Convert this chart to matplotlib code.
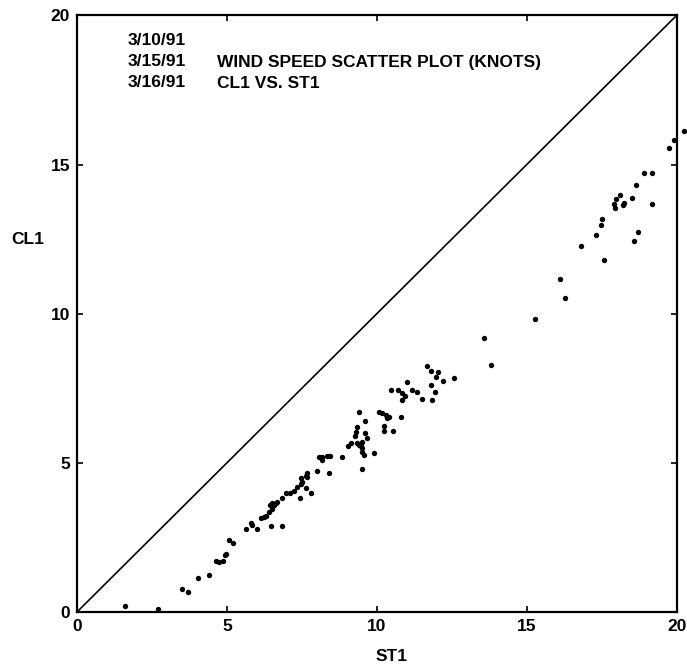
import matplotlib
matplotlib.use("Agg")
import matplotlib.pyplot as plt

# wind speed pairs (knots)
st1 = [1.6, 2.7, 3.5, 3.7, 4.05, 4.4, 4.64, 4.75, 4.86, 4.95, 4.97, 5.06, 5.19,
       5.64, 5.82, 5.84, 6.02, 6.14, 6.25, 6.30, 6.47, 6.83, 6.41, 6.52, 6.58,
       6.63, 6.45, 6.51, 6.68, 6.85, 6.96, 7.12, 7.23, 7.35, 7.46, 7.43, 7.52,
       7.63, 7.82, 7.46, 7.63, 7.68, 7.68, 8.00, 8.41, 8.07, 8.18, 8.33, 8.44,
       8.18, 8.85, 9.49, 9.05, 9.13, 9.35, 9.46, 9.52, 9.57, 9.51, 9.40, 9.51,
       9.68, 9.62, 9.27, 9.29, 9.35, 9.62, 9.40, 9.90, 10.23, 10.23, 10.54,
       10.07, 10.17, 10.29, 10.40, 10.34, 10.79, 10.48, 10.71, 10.84, 11.01,
       11.17, 11.34, 10.95, 10.84, 11.51, 11.81, 11.94, 11.84, 11.67, 11.81,
       12.05, 11.97, 12.20, 12.57, 13.57, 13.81, 15.27, 16.10, 16.29, 16.80,
       17.57, 17.32, 17.49, 17.52, 18.58, 18.71, 17.91, 17.94, 17.98, 18.10,
       18.21, 18.23, 18.51, 19.17, 18.63, 18.90, 19.18, 19.73, 19.92, 20.23]
cl1 = [0.19, 0.09, 0.76, 0.67, 1.14, 1.25, 1.70, 1.68, 1.70, 1.91, 1.96, 2.41, 2.30,
       2.77, 3.00, 2.91, 2.80, 3.14, 3.19, 3.23, 2.89, 2.89, 3.36, 3.47, 3.59,
       3.64, 3.59, 3.64, 3.70, 3.81, 3.98, 3.98, 4.06, 4.20, 4.29, 3.83, 4.37,
       4.17, 4.00, 4.48, 4.56, 4.65, 4.54, 4.74, 4.67, 5.19, 5.21, 5.24, 5.23,
       5.10, 5.18, 4.80, 5.55, 5.66, 5.66, 5.55, 5.38, 5.27, 5.49, 5.60, 5.71,
       5.83, 6.00, 5.90, 6.03, 6.20, 6.39, 6.72, 5.34, 6.22, 6.07, 6.08,
       6.69, 6.67, 6.61, 6.55, 6.50, 6.55, 7.45, 7.45, 7.34, 7.70,
       7.45, 7.39, 7.23, 7.12, 7.15, 7.60, 7.37, 7.12, 8.24, 8.09,
       8.04, 7.87, 7.73, 7.84, 9.19, 8.29, 9.82, 11.17, 10.53, 12.27,
       11.80, 12.64, 12.96, 13.19, 12.44, 12.73, 13.67, 13.55, 13.84, 13.97,
       13.65, 13.72, 13.88, 13.66, 14.31, 14.70, 14.70, 15.55, 15.83, 16.13]

dates = ["3/10/91", "3/15/91", "3/16/91"]
title_lines = ["WIND SPEED SCATTER PLOT (KNOTS)", "CL1 VS. ST1"]
ticks = [0, 5, 10, 15, 20]

plt.rcParams["font.family"] = ["Liberation Sans", "DejaVu Sans"]
plt.rcParams["font.weight"] = "bold"

fig = plt.figure(figsize=(6.87, 6.66), dpi=100)
ax = fig.add_axes([0.112, 0.081, 0.873, 0.896])

ax.plot([0, 20], [0, 20], color="black", linewidth=1.2)
ax.scatter(st1, cl1, s=15, color="black", linewidths=0, clip_on=False, zorder=3)

ax.set_xlim(0, 20)
ax.set_ylim(0, 20)
ax.set_xticks(ticks)
ax.set_yticks(ticks)
ax.tick_params(direction="in", length=4, width=1.2, top=True, right=True,
               labelsize=12.5, pad=5)
for lbl in ax.get_xticklabels() + ax.get_yticklabels():
    lbl.set_fontweight("bold")
for sp in ax.spines.values():
    sp.set_linewidth(1.6)

ax.set_xlabel("ST1", fontsize=12.5, fontweight="bold", va="center")
ax.xaxis.set_label_coords(0.525, -0.075)
ax.set_ylabel("CL1", fontsize=12.5, fontweight="bold", rotation=0,
              va="center", ha="center")
ax.yaxis.set_label_coords(-0.082, 0.625)

for i, d in enumerate(dates):
    ax.text(0.085, 0.958 - i * 0.035, d, transform=ax.transAxes,
            fontsize=12.5, fontweight="bold", va="center", ha="left")
for i, t in enumerate(title_lines):
    ax.text(0.233, 0.921 - i * 0.035, t, transform=ax.transAxes,
            fontsize=12.5, fontweight="bold", va="center", ha="left")

fig.savefig("out.png", dpi=100)
